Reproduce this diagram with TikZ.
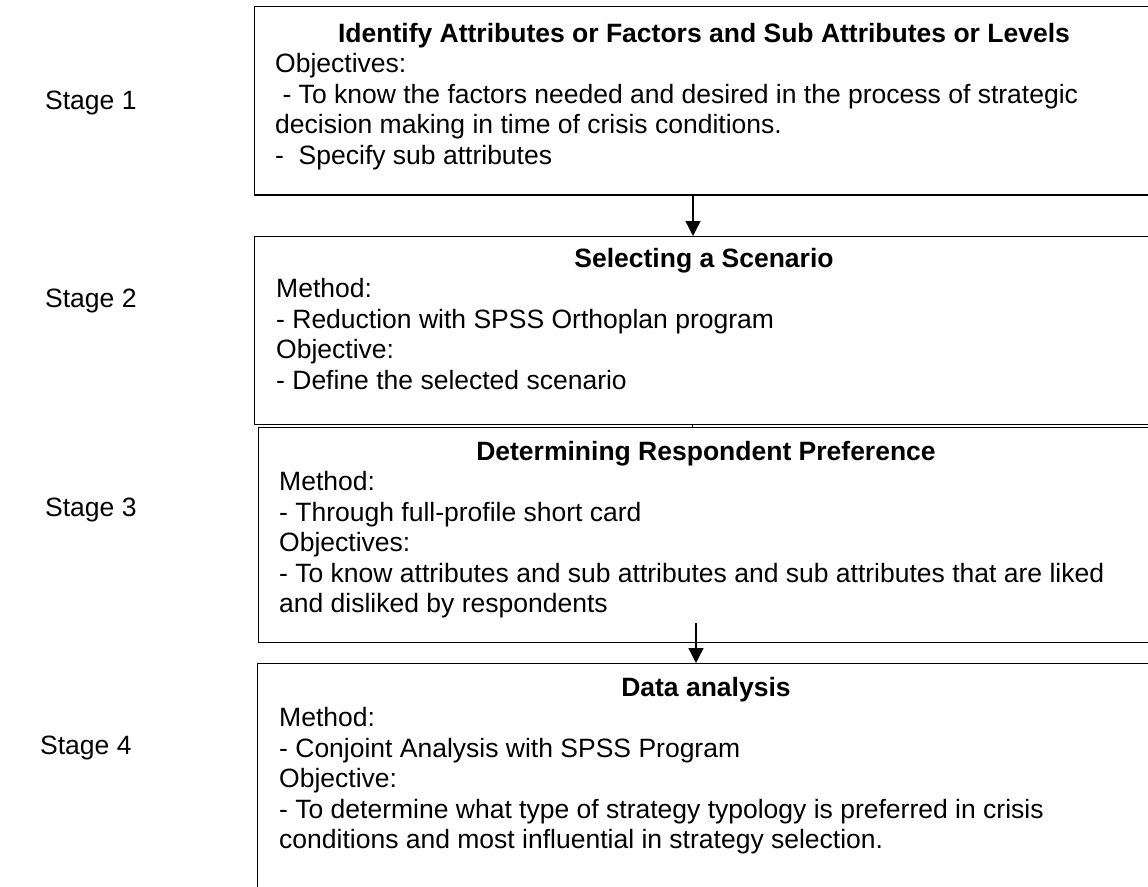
\documentclass[tikz,border=0pt]{standalone}
\usepackage{fontspec}
\setmainfont{Liberation Sans}
\usetikzlibrary{arrows.meta}
\tikzset{
  box/.style={draw, line width=1.4pt, inner sep=0pt, anchor=north west},
  txt/.style={anchor=base west, inner sep=0pt, font=\fontsize{26.5}{30.5}\selectfont},
  ttl/.style={anchor=base, inner sep=0pt, font=\fontsize{26.5}{30.5}\selectfont\bfseries},
  stagelbl/.style={anchor=base west, inner sep=0pt, font=\fontsize{26.5}{30.5}\selectfont},
  arr/.style={-{Triangle[length=15pt,width=15pt]}, line width=1.4pt},
}
\begin{document}
\begin{tikzpicture}[x=1pt,y=-1pt]
\useasboundingbox (0,0) rectangle (1148,886);
% boxes
\node[box, minimum width=900pt, minimum height=188.5pt] (box1) at (254,5.6) {};
\node[box, minimum width=900pt, minimum height=188pt] (box2) at (254,236) {};
\node[box, minimum width=896pt, minimum height=215pt] (box3) at (258,427) {};
\node[box, minimum width=897pt, minimum height=240pt] (box4) at (257,663) {};
% stage labels
\node[stagelbl] (s1) at (45,109) {Stage 1};
\node[stagelbl] (s2) at (45,307) {Stage 2};
\node[stagelbl] (s3) at (45,516) {Stage 3};
\node[stagelbl] (s4) at (40,754) {Stage 4};
% box 1
\node[ttl] (t1) at (704,42) {Identify Attributes or Factors and Sub Attributes or Levels};
\node[txt] (b1a) at (275,72.5) {Objectives:};
\node[txt] (b1b) at (275,103) {\ - To know the factors needed and desired in the process of strategic};
\node[txt] (b1c) at (275,133.5) {decision making in time of crisis conditions.};
\node[txt] (b1d) at (275,164) {-\ \ Specify sub attributes};
% box 2
\node[ttl] (t2) at (704,267) {Selecting a Scenario};
\node[txt] (b2a) at (276,297.5) {Method:};
\node[txt] (b2b) at (276,328) {- Reduction with SPSS Orthoplan program};
\node[txt] (b2c) at (276,358.5) {Objective:};
\node[txt] (b2d) at (276,389) {- Define the selected scenario};
% box 3
\node[ttl] (t3) at (706,460) {Determining Respondent Preference};
\node[txt] (b3a) at (279,490.5) {Method:};
\node[txt] (b3b) at (279,521) {- Through full-profile short card};
\node[txt] (b3c) at (279,551.5) {Objectives:};
\node[txt] (b3d) at (279,582) {- To know attributes and sub attributes and sub attributes that are liked};
\node[txt] (b3e) at (279,612.5) {and disliked by respondents};
% box 4
\node[ttl] (t4) at (706,696) {Data analysis};
\node[txt] (b4a) at (279,726.5) {Method:};
\node[txt] (b4b) at (279,757) {- Conjoint Analysis with SPSS Program};
\node[txt] (b4c) at (279,787.5) {Objective:};
\node[txt] (b4d) at (279,818) {- To determine what type of strategy typology is preferred in crisis};
\node[txt] (b4e) at (279,848.5) {conditions and most influential in strategy selection.};
% connectors
\coordinate (x1) at (693,0);
\coordinate (x2) at (692,0);
\coordinate (a2s) at (696,623);
\draw[arr] (box1.south -| x1) -- (box2.north -| x1);
\draw[line width=1pt] (box2.south -| x2) -- (box3.north -| x2);
\draw[arr] (a2s) -- (box4.north -| a2s);
\end{tikzpicture}
\end{document}
